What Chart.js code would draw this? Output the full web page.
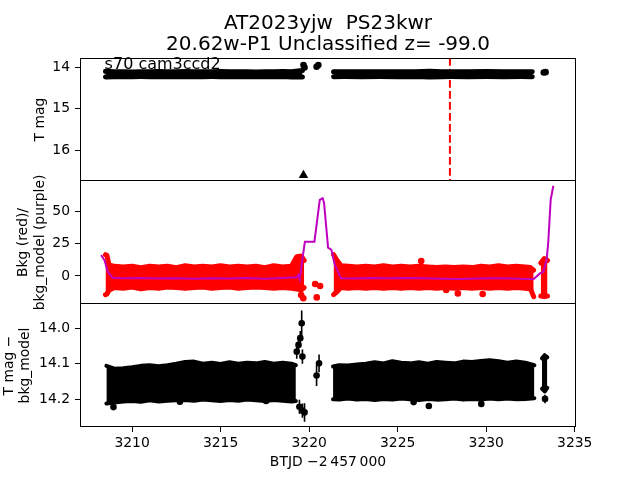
<!DOCTYPE html>
<html>
<head>
<meta charset="utf-8">
<script src="https://cdn.jsdelivr.net/npm/chart.js@4.4.1/dist/chart.umd.min.js"></script>
<style>
  body { margin: 0; background: #fff; width: 640px; height: 480px; position: relative; overflow: hidden; }
  canvas { position: absolute; left: 0; top: 0; }
</style>
</head>
<body>
<canvas id="c1" width="640" height="480"></canvas>
<canvas id="c2" width="640" height="480"></canvas>
<canvas id="c3" width="640" height="480"></canvas>
<script>
// axes
const xLim = [3207.06, 3235.07];
const xTicks = [3210, 3215, 3220, 3225, 3230, 3235];
const p1Lim = [13.78, 16.74];
const p1Ticks = [14, 15, 16];
const p2Lim = [-21.7, 73.6];
const p2Ticks = [0, 25, 50];
const p3Lim = [13.932, 14.278];
const p3Ticks = [14.0, 14.1, 14.2];
const titleLines = ['AT2023yjw  PS23kwr', '20.62w-P1 Unclassified z= -99.0'];
const sectorLabel = 's70 cam3ccd2';
const discoveryT = 3227.95;

// panel 1: T mag (band envelopes + stray points)
const p1LeftT  = [3208.5, 3209, 3209.5, 3210, 3210.5, 3211, 3211.5, 3212, 3212.5, 3213, 3213.5, 3214, 3214.5, 3215, 3215.5, 3216, 3216.5, 3217, 3217.5, 3218, 3218.5, 3219, 3219.62];
const p1LeftHi = [14.10, 14.11, 14.11, 14.115, 14.11, 14.11, 14.105, 14.11, 14.11, 14.105, 14.11, 14.112, 14.11, 14.105, 14.11, 14.11, 14.108, 14.115, 14.11, 14.11, 14.105, 14.11, 14.08];
const p1LeftLo = [14.235, 14.23, 14.225, 14.23, 14.228, 14.23, 14.225, 14.232, 14.226, 14.23, 14.225, 14.23, 14.228, 14.23, 14.225, 14.232, 14.226, 14.23, 14.225, 14.23, 14.228, 14.235, 14.24];
const p1RightT  = [3221.38, 3222, 3223, 3224, 3225, 3226, 3226.8, 3227.5, 3228, 3229, 3230, 3231, 3232, 3232.6];
const p1RightHi = [14.11, 14.11, 14.112, 14.108, 14.11, 14.11, 14.10, 14.11, 14.108, 14.11, 14.106, 14.11, 14.11, 14.112];
const p1RightLo = [14.23, 14.228, 14.23, 14.226, 14.23, 14.228, 14.24, 14.23, 14.228, 14.23, 14.226, 14.23, 14.228, 14.23];
const p1OutT = [3219.68, 3219.74, 3220.42, 3220.52, 3233.25, 3233.35];
const p1OutM = [13.95, 14.01, 13.99, 13.95, 14.13, 14.12];
const p1LimitT = [3219.68];
const p1LimitM = [16.6];

// panel 2: background (red) and background model (purple)
const p2LeftT  = [3208.5, 3208.58, 3208.7, 3209, 3209.5, 3210, 3210.5, 3211, 3211.5, 3212, 3212.5, 3213, 3213.5, 3214, 3214.5, 3215, 3215.5, 3216, 3216.5, 3217, 3217.5, 3218, 3218.5, 3219, 3219.3, 3219.55, 3219.72];
const p2LeftHi = [16.5, 16, 8.5, 7.5, 7, 7.5, 6.5, 7.5, 7, 7.5, 6.5, 8, 7, 7.5, 7, 8, 7, 7.5, 7, 7.5, 6.5, 8, 7, 7.5, 15, 15.5, 12];
const p2LeftLo = [-14.5, -14, -11, -9, -9.5, -8.5, -10, -9, -9.5, -8.5, -9, -9.5, -9, -8.5, -9.5, -9, -8.5, -9.5, -9, -8.5, -9, -9.5, -9, -9.5, -10, -11, -9];
const p2RightT  = [3221.38, 3221.55, 3221.8, 3222.2, 3222.7, 3223.2, 3223.7, 3224.2, 3224.7, 3225.2, 3225.7, 3226.2, 3226.7, 3227.2, 3227.7, 3228.2, 3228.7, 3229.2, 3229.7, 3230.2, 3230.7, 3231.2, 3231.7, 3232.2, 3232.5, 3232.68];
const p2RightHi = [16.5, 12.5, 8, 7.5, 7, 7.5, 7, 8, 7, 7.5, 7, 7.5, 7, 6.5, 7, 6.5, 7, 6.5, 7.5, 7, 8, 7, 7.5, 7, 6.5, 4.5];
const p2RightLo = [-14.5, -12.5, -9, -9.5, -9, -9.5, -9, -9.5, -9, -9.5, -9, -9.5, -9, -9.5, -9, -9.5, -9, -9.5, -9, -9.5, -9, -9.5, -9, -9.5, -10, -16];
const p2ClusT  = [3233.08, 3233.28, 3233.46];
const p2ClusHi = [10, 13.5, 12];
const p2ClusLo = [-15.5, -16, -15.5];
const p2OutT = [3219.55, 3219.67, 3220.34, 3220.43, 3220.62, 3226.33, 3227.74, 3228.4, 3229.8];
const p2OutV = [-14.8, -17.3, -6.2, -16.6, -7.8, 11.6, -10.9, -13.5, -14];
const bkgModelT = [3208.25, 3208.45, 3208.62, 3208.9, 3209.5, 3210.5, 3211.5, 3212.5, 3213.5, 3214.5, 3215.5, 3216.5, 3217.5, 3218.5, 3219.27, 3219.4, 3219.47, 3219.6, 3219.76, 3220.3, 3220.6, 3220.76, 3220.84, 3221.07, 3221.26, 3221.45, 3221.8, 3222.5, 3223.5, 3224.5, 3225.5, 3226.5, 3227.5, 3228.5, 3229.5, 3230.5, 3231.5, 3232.67, 3233.03, 3233.22, 3233.41, 3233.5, 3233.64, 3233.79];
const bkgModelV = [16.3, 12.0, 3.4, -1.3, -1.8, -1.6, -1.9, -1.7, -2.2, -1.8, -2.0, -1.6, -2.1, -1.5, -1.0, 0.8, -2.5, 11, 26.6, 26.6, 59, 60.3, 57, 22, 20.2, 8.5, -1.8, -2.0, -1.6, -1.8, -1.5, -1.8, -2.2, -2.4, -1.9, -1.8, -2.0, -2.6, 2, 3.3, 12.4, 25.4, 59, 69.9];

// panel 3: T mag - bkg_model
const p3LeftT  = [3208.55, 3209, 3209.5, 3210, 3210.5, 3211, 3211.5, 3212, 3212.5, 3213, 3213.5, 3214, 3214.5, 3215, 3215.5, 3216, 3216.5, 3217, 3217.5, 3218, 3218.5, 3219, 3219.25];
const p3LeftHi = [14.106, 14.114, 14.113, 14.11, 14.106, 14.104, 14.107, 14.104, 14.1, 14.095, 14.094, 14.1, 14.097, 14.101, 14.096, 14.1, 14.097, 14.099, 14.095, 14.1, 14.097, 14.1, 14.104];
const p3LeftLo = [14.212, 14.209, 14.206, 14.205, 14.207, 14.203, 14.206, 14.204, 14.203, 14.202, 14.204, 14.201, 14.203, 14.205, 14.202, 14.204, 14.201, 14.203, 14.205, 14.202, 14.204, 14.206, 14.205];
const p3RightT  = [3221.35, 3221.7, 3222.2, 3222.7, 3223.2, 3223.7, 3224.2, 3224.7, 3225.2, 3225.7, 3226.2, 3226.7, 3227.2, 3227.7, 3228.2, 3228.7, 3229.2, 3229.7, 3230.2, 3230.7, 3231.2, 3231.7, 3232.2, 3232.72];
const p3RightHi = [14.108, 14.104, 14.105, 14.102, 14.1, 14.096, 14.099, 14.093, 14.097, 14.099, 14.096, 14.1, 14.095, 14.097, 14.099, 14.094, 14.095, 14.092, 14.09, 14.093, 14.097, 14.094, 14.097, 14.104];
const p3RightLo = [14.2, 14.201, 14.198, 14.201, 14.199, 14.202, 14.199, 14.201, 14.198, 14.2, 14.202, 14.199, 14.201, 14.2, 14.198, 14.201, 14.199, 14.201, 14.198, 14.2, 14.198, 14.2, 14.199, 14.197];
const p3ClusT  = [3233.15, 3233.3, 3233.45];
const p3ClusHi = [14.085, 14.076, 14.082];
const p3ClusLo = [14.17, 14.178, 14.168];
const p3OutT   = [3208.95, 3212.7, 3217.57, 3219.3, 3219.4, 3219.5, 3219.58, 3219.62, 3219.45, 3219.62, 3219.74, 3220.42, 3220.56, 3225.9, 3226.76, 3229.72, 3233.32];
const p3OutM   = [14.222, 14.207, 14.205, 14.066, 14.047, 14.028, 13.986, 14.08, 14.221, 14.232, 14.237, 14.133, 14.099, 14.208, 14.219, 14.213, 14.199];
const p3OutErr = [0.008, 0.008, 0.008, 0.02, 0.02, 0.02, 0.036, 0.02, 0.02, 0.02, 0.026, 0.03, 0.025, 0.008, 0.008, 0.008, 0.012];

const RED = '#ff0000', PURPLE = '#bf00bf', BLACK = '#000000';
const FONT = 'DejaVu Sans';
Chart.defaults.font.family = FONT;
Chart.defaults.font.size = 13.9;
Chart.defaults.color = BLACK;

function pts(xs, ys) { return xs.map((x, i) => ({ x: x, y: ys[i] })); }

function band(xs, hi, lo, color, w) {
  const line = { showLine: true, borderColor: color, borderWidth: w, pointRadius: 0,
                 borderJoinStyle: 'round', borderCapStyle: 'round', order: 3 };
  return [
    Object.assign({ data: pts(xs, hi), fill: false }, line),
    Object.assign({ data: pts(xs, lo), fill: '-1', backgroundColor: color }, line)
  ];
}

function dots(xs, ys, color, r, style) {
  return { data: pts(xs, ys), showLine: false, pointRadius: r, pointStyle: style || 'circle',
           pointBackgroundColor: color, pointBorderWidth: 0, order: 1 };
}

function xScale(show) {
  const s = {
    type: 'linear', min: xLim[0], max: xLim[1], display: show,
    afterBuildTicks: sc => { sc.ticks = xTicks.map(v => ({ value: v })); },
    grid: { drawOnChartArea: false, tickLength: 5, color: BLACK, lineWidth: 1 },
    border: { display: false },
    ticks: { padding: 3, maxRotation: 0, autoSkip: false, callback: v => String(v) },
    title: { display: true, text: 'BTJD \u22122\u2009457\u2009000', padding: { top: 0, bottom: 9 } }
  };
  if (show) s.afterFit = sc => { sc.height = 53; sc.paddingLeft = 0; sc.paddingRight = 0; };
  return s;
}

function yScale(lim, ticks, rev, fmt) {
  return {
    type: 'linear', min: lim[0], max: lim[1], reverse: rev,
    afterBuildTicks: s => { s.ticks = ticks.map(v => ({ value: v })); },
    afterFit: s => { s.width = 80; s.paddingTop = 0; s.paddingBottom = 0; },
    grid: { drawOnChartArea: false, tickLength: 5, color: BLACK, lineWidth: 1 },
    border: { display: false },
    ticks: { padding: 5, callback: fmt }
  };
}

// panel frame plus rotated y label (label baselines given in px from the left edge)
function panelPlugin(withTop, label, baselines) {
  return {
    id: 'panel',
    afterDraw(chart) {
      const { ctx, chartArea: a } = chart;
      ctx.save();
      ctx.strokeStyle = BLACK;
      ctx.lineWidth = 1;
      ctx.beginPath();
      if (withTop) { ctx.moveTo(a.left, a.top + 0.5); ctx.lineTo(a.right, a.top + 0.5); }
      ctx.moveTo(a.left + 0.5, a.top); ctx.lineTo(a.left + 0.5, a.bottom);
      ctx.moveTo(a.right - 0.5, a.top); ctx.lineTo(a.right - 0.5, a.bottom);
      ctx.moveTo(a.left, a.bottom - 0.5); ctx.lineTo(a.right, a.bottom - 0.5);
      ctx.stroke();
      ctx.fillStyle = BLACK;
      ctx.font = '13.9px "' + FONT + '"';
      ctx.textAlign = 'center';
      ctx.textBaseline = 'alphabetic';
      const cy = (a.top + a.bottom) / 2;
      label.forEach((txt, i) => {
        ctx.save();
        ctx.translate(baselines[i], cy);
        ctx.rotate(-Math.PI / 2);
        ctx.fillText(txt, 0, 0);
        ctx.restore();
      });
      ctx.restore();
    }
  };
}

const textPlugin = {
  id: 'texts',
  afterDraw(chart) {
    const { ctx, chartArea: a, scales } = chart;
    ctx.save();
    ctx.fillStyle = BLACK;
    ctx.font = '20px "' + FONT + '"';
    ctx.textAlign = 'center';
    ctx.textBaseline = 'alphabetic';
    const cx = (a.left + a.right) / 2;
    ctx.fillText(titleLines[0], cx, 28.5);
    ctx.fillText(titleLines[1], cx, 50);
    ctx.font = '16px "' + FONT + '"';
    ctx.textAlign = 'left';
    ctx.fillText(sectorLabel, scales.x.getPixelForValue(3208.45), scales.y.getPixelForValue(14.04));
    ctx.restore();
  }
};

const errorBarPlugin = {
  id: 'errbars',
  beforeDatasetsDraw(chart) {
    const { ctx, chartArea: a, scales } = chart;
    ctx.save();
    ctx.beginPath();
    ctx.rect(a.left, a.top, a.right - a.left, a.bottom - a.top);
    ctx.clip();
    ctx.strokeStyle = BLACK;
    ctx.lineWidth = 1.6;
    ctx.beginPath();
    p3OutT.forEach((t, i) => {
      const x = scales.x.getPixelForValue(t);
      ctx.moveTo(x, scales.y.getPixelForValue(p3OutM[i] - p3OutErr[i]));
      ctx.lineTo(x, scales.y.getPixelForValue(p3OutM[i] + p3OutErr[i]));
    });
    ctx.stroke();
    ctx.restore();
  }
};

function opts(padTop, padBottom, x, y) {
  return {
    responsive: false, animation: false,
    layout: { autoPadding: false, padding: { top: padTop, right: 64, left: 0, bottom: padBottom } },
    plugins: { legend: { display: false }, tooltip: { enabled: false } },
    scales: { x: x, y: y }
  };
}

// panel 1
new Chart(document.getElementById('c1'), {
  type: 'line',
  data: { datasets: [].concat(
    band(p1LeftT, p1LeftHi, p1LeftLo, BLACK, 5),
    band(p1RightT, p1RightHi, p1RightLo, BLACK, 5),
    [dots(p1OutT, p1OutM, BLACK, 3.3),
     dots(p1LimitT, p1LimitM, BLACK, 5.5, 'triangle'),
     { data: [{ x: discoveryT, y: p1Lim[0] }, { x: discoveryT, y: p1Lim[1] }], showLine: true,
       borderColor: RED, borderWidth: 2, borderDash: [7.7, 3.3], pointRadius: 0, order: 5 }]
  ) },
  options: opts(58, 299, xScale(false), yScale(p1Lim, p1Ticks, true, v => String(v))),
  plugins: [panelPlugin(true, ['T mag'], [43.5]), textPlugin]
});

// panel 2
new Chart(document.getElementById('c2'), {
  type: 'line',
  data: { datasets: [].concat(
    band(p2LeftT, p2LeftHi, p2LeftLo, RED, 5),
    band(p2RightT, p2RightHi, p2RightLo, RED, 5),
    band(p2ClusT, p2ClusHi, p2ClusLo, RED, 5),
    [dots(p2OutT, p2OutV, RED, 3.3),
     { data: pts(bkgModelT, bkgModelV), showLine: true, borderColor: PURPLE, borderWidth: 2,
       pointRadius: 0, fill: false, order: 0 }]
  ) },
  options: opts(181, 176, xScale(false), yScale(p2Lim, p2Ticks, false, v => String(v))),
  plugins: [panelPlugin(false, ['Bkg (red)/', 'bkg_model (purple)'], [27, 43.5])]
});

// panel 3
new Chart(document.getElementById('c3'), {
  type: 'line',
  data: { datasets: [].concat(
    band(p3LeftT, p3LeftHi, p3LeftLo, BLACK, 4),
    band(p3RightT, p3RightHi, p3RightLo, BLACK, 4),
    band(p3ClusT, p3ClusHi, p3ClusLo, BLACK, 4),
    [dots(p3OutT, p3OutM, BLACK, 3.3)]
  ) },
  options: opts(304, 0, xScale(true), yScale(p3Lim, p3Ticks, true, v => v.toFixed(1))),
  plugins: [panelPlugin(false, ['T mag \u2212', 'bkg_model'], [13, 29]), errorBarPlugin]
});
</script>
</body>
</html>
